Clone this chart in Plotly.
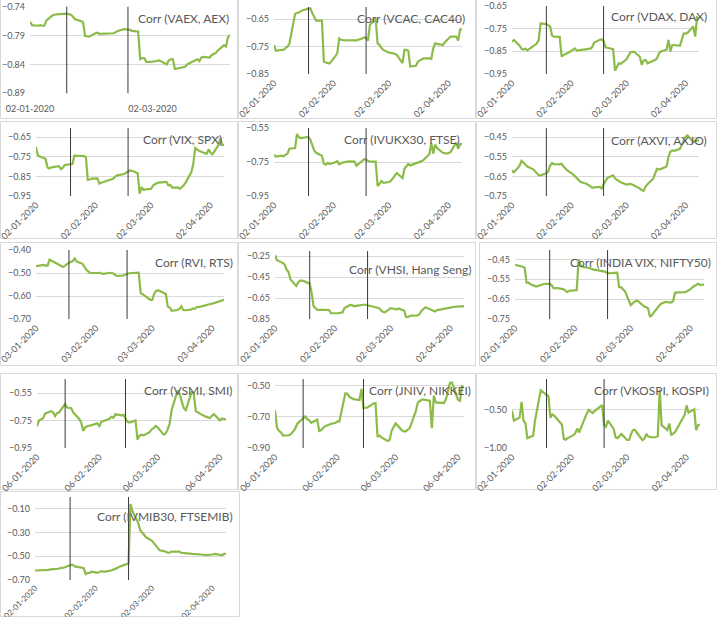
import pandas as pd
import plotly.graph_objects as go

W, H = 717, 617
dates = pd.bdate_range("2020-01-02", "2020-04-09")
events = ["2020-01-20", "2020-02-19"]

vaex = [-0.766,-0.772,-0.773,-0.772,-0.773,-0.773,-0.764,-0.755,-0.754,-0.753,
        -0.753,-0.753,-0.752,-0.753,-0.754,-0.757,-0.762,-0.765,-0.767,-0.791,
        -0.791,-0.792,-0.786,-0.785,-0.787,-0.787,-0.787,-0.787,-0.787,-0.786,
        -0.784,-0.782,-0.779,-0.779,-0.779,-0.780,-0.782,-0.783,-0.831,-0.829,
        -0.829,-0.836,-0.835,-0.835,-0.834,-0.833,-0.834,-0.840,-0.833,-0.831,
        -0.831,-0.848,-0.846,-0.845,-0.844,-0.840,-0.838,-0.833,-0.831,-0.834,
        -0.828,-0.827,-0.828,-0.824,-0.822,-0.820,-0.816,-0.807,-0.809,-0.793,
        -0.789]
vcac = [-0.744,-0.765,-0.762,-0.762,-0.755,-0.750,-0.740,-0.630,-0.627,-0.625,
        -0.620,-0.617,-0.611,-0.610,-0.628,-0.642,-0.655,-0.655,-0.805,-0.808,
        -0.810,-0.812,-0.785,-0.774,-0.720,-0.725,-0.726,-0.726,-0.726,-0.727,
        -0.728,-0.727,-0.720,-0.716,-0.718,-0.728,-0.670,-0.648,-0.738,-0.744,
        -0.755,-0.762,-0.772,-0.773,-0.774,-0.776,-0.780,-0.810,-0.762,-0.762,
        -0.765,-0.823,-0.820,-0.805,-0.800,-0.796,-0.793,-0.793,-0.795,-0.757,
        -0.738,-0.740,-0.744,-0.735,-0.726,-0.720,-0.713,-0.713,-0.728,-0.687,
        -0.686]
vdax = [-0.807,-0.800,-0.825,-0.838,-0.843,-0.838,-0.846,-0.826,-0.820,-0.816,
        -0.800,-0.727,-0.730,-0.734,-0.740,-0.780,-0.785,-0.786,-0.874,-0.866,
        -0.862,-0.859,-0.843,-0.837,-0.847,-0.846,-0.845,-0.841,-0.840,-0.838,
        -0.832,-0.812,-0.799,-0.797,-0.805,-0.832,-0.834,-0.840,-0.935,-0.918,
        -0.903,-0.905,-0.885,-0.870,-0.856,-0.852,-0.852,-0.874,-0.910,-0.890,
        -0.888,-0.903,-0.893,-0.888,-0.881,-0.860,-0.851,-0.843,-0.800,-0.851,
        -0.822,-0.822,-0.826,-0.800,-0.771,-0.772,-0.768,-0.740,-0.785,-0.700,
        -0.705]
vix = [-0.701,-0.745,-0.757,-0.762,-0.805,-0.810,-0.804,-0.798,-0.798,-0.813,
       -0.806,-0.792,-0.791,-0.787,-0.745,-0.745,-0.747,-0.747,-0.752,-0.868,
       -0.866,-0.862,-0.860,-0.887,-0.883,-0.879,-0.874,-0.866,-0.864,-0.856,
       -0.846,-0.844,-0.838,-0.832,-0.828,-0.820,-0.822,-0.834,-0.938,-0.905,
       -0.918,-0.916,-0.913,-0.897,-0.890,-0.884,-0.882,-0.880,-0.878,-0.896,
       -0.894,-0.907,-0.906,-0.913,-0.905,-0.895,-0.882,-0.828,-0.786,-0.706,
       -0.713,-0.720,-0.732,-0.735,-0.713,-0.730,-0.738,-0.692,-0.658,-0.690,
       -0.690]
ivukx = [-0.707,-0.718,-0.713,-0.716,-0.708,-0.702,-0.672,-0.668,-0.585,-0.605,
         -0.609,-0.607,-0.603,-0.620,-0.648,-0.683,-0.696,-0.713,-0.760,-0.766,
         -0.755,-0.762,-0.752,-0.746,-0.764,-0.758,-0.752,-0.746,-0.746,-0.746,
         -0.748,-0.772,-0.740,-0.734,-0.737,-0.742,-0.748,-0.748,-0.891,-0.880,
         -0.862,-0.872,-0.868,-0.860,-0.848,-0.830,-0.815,-0.845,-0.790,-0.775,
         -0.762,-0.770,-0.758,-0.754,-0.750,-0.745,-0.737,-0.703,-0.640,-0.700,
         -0.648,-0.668,-0.696,-0.700,-0.701,-0.698,-0.692,-0.635,-0.672,-0.645,
         -0.645]
axvi = [-0.619,-0.630,-0.596,-0.571,-0.580,-0.590,-0.600,-0.613,-0.625,-0.637,
        -0.644,-0.645,-0.634,-0.625,-0.595,-0.582,-0.588,-0.589,-0.586,-0.600,
        -0.610,-0.620,-0.640,-0.650,-0.660,-0.670,-0.679,-0.688,-0.693,-0.700,
        -0.708,-0.706,-0.704,-0.712,-0.690,-0.670,-0.658,-0.645,-0.660,-0.668,
        -0.676,-0.680,-0.692,-0.688,-0.688,-0.692,-0.696,-0.712,-0.720,-0.724,
        -0.702,-0.690,-0.662,-0.640,-0.612,-0.614,-0.613,-0.600,-0.550,-0.525,
        -0.518,-0.520,-0.510,-0.490,-0.465,-0.447,-0.442,-0.475,-0.472,-0.467,
        -0.467]
rvi = [-0.470,-0.466,-0.465,-0.468,-0.468,-0.442,-0.455,-0.460,-0.465,-0.470,
       -0.474,-0.455,-0.451,-0.448,-0.437,-0.450,-0.460,-0.476,-0.486,-0.494,
       -0.500,-0.500,-0.500,-0.499,-0.503,-0.504,-0.499,-0.500,-0.502,-0.510,
       -0.513,-0.511,-0.509,-0.504,-0.501,-0.500,-0.499,-0.499,-0.586,-0.594,
       -0.598,-0.617,-0.617,-0.590,-0.578,-0.575,-0.587,-0.591,-0.646,-0.650,
       -0.664,-0.661,-0.656,-0.645,-0.661,-0.662,-0.659,-0.654,-0.656,-0.647,
       -0.648,-0.640,-0.639,-0.637,-0.635,-0.633,-0.626,-0.623,-0.620,-0.615]
vhsi = [-0.240,-0.288,-0.313,-0.330,-0.378,-0.400,-0.470,-0.534,-0.500,-0.484,
        -0.484,-0.488,-0.512,-0.600,-0.730,-0.748,-0.762,-0.762,-0.762,-0.762,
        -0.764,-0.795,-0.800,-0.795,-0.790,-0.787,-0.746,-0.716,-0.718,-0.728,
        -0.724,-0.720,-0.714,-0.714,-0.716,-0.724,-0.728,-0.746,-0.746,-0.768,
        -0.782,-0.787,-0.746,-0.750,-0.755,-0.760,-0.750,-0.770,-0.831,-0.831,
        -0.822,-0.818,-0.815,-0.800,-0.770,-0.750,-0.738,-0.762,-0.770,-0.778,
        -0.765,-0.762,-0.756,-0.752,-0.746,-0.742,-0.735,-0.726,-0.730,-0.730,
        -0.730]
indiavix = [-0.478,-0.480,-0.487,-0.492,-0.567,-0.567,-0.575,-0.587,-0.583,-0.578,
            -0.576,-0.574,-0.572,-0.580,-0.595,-0.595,-0.595,-0.600,-0.605,-0.615,
            -0.608,-0.607,-0.605,-0.450,-0.480,-0.487,-0.490,-0.495,-0.500,-0.503,
            -0.503,-0.505,-0.510,-0.513,-0.520,-0.520,-0.518,-0.517,-0.590,-0.590,
            -0.600,-0.610,-0.680,-0.670,-0.663,-0.658,-0.662,-0.687,-0.690,-0.697,
            -0.740,-0.730,-0.690,-0.680,-0.672,-0.667,-0.664,-0.667,-0.660,-0.617,
            -0.617,-0.617,-0.615,-0.612,-0.607,-0.600,-0.590,-0.573,-0.578,-0.577,
            -0.577]
vsmi = [-0.792,-0.750,-0.740,-0.735,-0.700,-0.683,-0.690,-0.718,-0.697,-0.690,
        -0.630,-0.655,-0.659,-0.660,-0.690,-0.739,-0.765,-0.825,-0.800,-0.792,
        -0.780,-0.772,-0.770,-0.790,-0.760,-0.742,-0.737,-0.723,-0.730,-0.705,
        -0.713,-0.708,-0.730,-0.760,-0.765,-0.750,-0.890,-0.860,-0.853,-0.858,
        -0.835,-0.815,-0.805,-0.790,-0.800,-0.853,-0.845,-0.815,-0.770,-0.671,
        -0.530,-0.560,-0.611,-0.660,-0.675,-0.538,-0.560,-0.683,-0.690,-0.700,
        -0.722,-0.727,-0.732,-0.716,-0.705,-0.749,-0.735,-0.739,-0.740]
jniv = [-0.658,-0.770,-0.790,-0.800,-0.820,-0.818,-0.810,-0.795,-0.778,-0.745,
        -0.710,-0.697,-0.715,-0.722,-0.738,-0.718,-0.790,-0.785,-0.770,-0.760,
        -0.744,-0.742,-0.740,-0.729,-0.729,-0.549,-0.552,-0.572,-0.582,-0.586,
        -0.592,-0.521,-0.643,-0.643,-0.640,-0.614,-0.611,-0.829,-0.820,-0.832,
        -0.855,-0.848,-0.790,-0.765,-0.742,-0.785,-0.793,-0.793,-0.780,-0.772,
        -0.665,-0.610,-0.598,-0.590,-0.590,-0.596,-0.772,-0.564,-0.607,-0.607,
        -0.611,-0.588,-0.530,-0.482,-0.479,-0.590,-0.598,-0.504,-0.510]
vkospi = [-0.509,-0.640,-0.600,-0.395,-0.640,-0.677,-0.870,-0.840,-0.640,-0.510,
          -0.420,-0.240,-0.300,-0.318,-0.600,-0.560,-0.575,-0.665,-0.690,-0.880,
          -0.890,-0.870,-0.832,-0.805,-0.745,-0.795,-0.730,-0.545,-0.500,-0.520,
          -0.540,-0.515,-0.450,-0.435,-0.700,-0.720,-0.640,-0.750,-0.860,-0.870,
          -0.845,-0.815,-0.895,-0.895,-0.820,-0.765,-0.760,-0.860,-0.898,-0.880,
          -0.815,-0.850,-0.862,-0.855,-0.845,-0.235,-0.700,-0.765,-0.677,-0.832,
          -0.805,-0.790,-0.655,-0.600,-0.566,-0.440,-0.535,-0.491,-0.765,-0.699,
          -0.690]
ivmib = [-0.620,-0.620,-0.620,-0.620,-0.620,-0.615,-0.610,-0.610,-0.605,-0.600,
         -0.600,-0.595,-0.575,-0.570,-0.580,-0.590,-0.590,-0.600,-0.650,-0.640,
         -0.640,-0.630,-0.640,-0.630,-0.625,-0.630,-0.630,-0.620,-0.615,-0.605,
         -0.600,-0.590,-0.575,-0.565,-0.560,-0.060,-0.120,-0.220,-0.280,-0.300,
         -0.320,-0.340,-0.370,-0.390,-0.410,-0.430,-0.450,-0.460,-0.470,-0.470,
         -0.460,-0.460,-0.460,-0.470,-0.470,-0.470,-0.475,-0.480,-0.480,-0.480,
         -0.485,-0.485,-0.490,-0.490,-0.490,-0.485,-0.480,-0.490,-0.490,-0.480,
         -0.480]

def month_ticks(day):
    return [f"2020-{m:02d}-{day:02d}" for m in (1, 2, 3, 4)]

panels = [
    dict(t="Corr (VAEX, AEX)", v=vaex, s=0, yt=[-0.89, -0.84, -0.79, -0.74], yr=[-0.89, -0.74],
         xt=["2020-01-02", "2020-03-02"], ang=0, px=(30, 230), py=(6.7, 93.3), tp=(231, 18), box=(0, -1, 238, 119)),
    dict(t="Corr (VCAC, CAC40)", v=vcac, s=0, yt=[-0.85, -0.75, -0.65], yr=[-0.85, -0.605],
         xt=month_ticks(2), ang=-45, px=(274, 462), py=(7, 74), tp=(467, 18), box=(238, -1, 476, 119)),
    dict(t="Corr (VDAX, DAX)", v=vdax, s=0, yt=[-0.95, -0.85, -0.75, -0.65], yr=[-0.95, -0.65],
         xt=month_ticks(2), ang=-45, px=(512, 699), py=(6, 74), tp=(709, 17), box=(476, -1, 717, 119)),
    dict(t="Corr (VIX, SPX)", v=vix, s=0, yt=[-0.95, -0.85, -0.75, -0.65], yr=[-0.95, -0.604],
         xt=month_ticks(2), ang=-45, px=(36, 224), py=(128, 196), tp=(224, 139), box=(0, 121, 238, 239)),
    dict(t="Corr (IVUKX30, FTSE)", v=ivukx, s=0, yt=[-0.95, -0.75, -0.55], yr=[-0.95, -0.55],
         xt=month_ticks(2), ang=-45, px=(274, 462), py=(128, 196), tp=(462, 139), box=(238, 121, 476, 239)),
    dict(t="Corr (AXVI, AXJO)", v=axvi, s=0, yt=[-0.75, -0.65, -0.55, -0.45], yr=[-0.75, -0.404],
         xt=month_ticks(2), ang=-45, px=(512, 699), py=(128, 196), tp=(709, 140), box=(476, 121, 717, 239)),
    dict(t="Corr (RVI, RTS)", v=rvi, s=1, yt=[-0.70, -0.60, -0.50, -0.40], yr=[-0.70, -0.40],
         xt=month_ticks(3), ang=-45, px=(36, 224), py=(250, 319), tp=(235, 263), box=(0, 242, 238, 366)),
    dict(t="Corr (VHSI, Hang Seng)", v=vhsi, s=0, yt=[-0.85, -0.65, -0.45, -0.25], yr=[-0.85, -0.20],
         xt=month_ticks(2), ang=-45, px=(275, 464), py=(251, 319), tp=(473, 269), box=(238, 242, 476, 366)),
    dict(t="Corr (INDIA VIX, NIFTY50)", v=indiavix, s=0, yt=[-0.75, -0.65, -0.55, -0.45], yr=[-0.75, -0.403],
         xt=month_ticks(2), ang=-45, px=(515, 704), py=(250, 319), tp=(713, 263), box=(479, 242, 717, 366)),
    dict(t="Corr (VSMI, SMI)", v=vsmi, s=2, yt=[-0.95, -0.75, -0.55], yr=[-0.95, -0.448],
         xt=month_ticks(6), ang=-45, px=(37, 226), py=(379, 448), tp=(235, 390), box=(0, 373, 238, 490)),
    dict(t="Corr (JNIV, NIKKEI)", v=jniv, s=2, yt=[-0.90, -0.70, -0.50], yr=[-0.90, -0.457],
         xt=month_ticks(6), ang=-45, px=(275, 464), py=(379, 448), tp=(473, 390), box=(238, 373, 476, 490)),
    dict(t="Corr (VKOSPI, KOSPI)", v=vkospi, s=0, yt=[-1.00, -0.50], yr=[-1.0, -0.093],
         xt=month_ticks(2), ang=-45, px=(512, 700), py=(379, 448), tp=(711, 390), box=(476, 373, 717, 490)),
    dict(t="Corr (IVMIB30, FTSEMIB)", v=ivmib, s=0, yt=[-0.70, -0.50, -0.30, -0.10], yr=[-0.70, 0.0],
         xt=month_ticks(2), ang=-45, px=(35, 226), py=(497, 580), tp=(235, 516), box=(0, 491, 240, 617),
         xfs=8),
]

FONT = "Lato, Carlito, Calibri, sans-serif"
GREY = "#595959"
GREEN = "#8DBB4A"

fig = go.Figure()
shapes, annos = [], []
layout = {}

def fx(p):
    return p / W

def fy(p):
    return 1 - p / H

for i, p in enumerate(panels, start=1):
    sfx = "" if i == 1 else str(i)
    xa, ya = "x" + sfx, "y" + sfx
    xs = dates[p["s"]:p["s"] + len(p["v"])]
    fig.add_trace(go.Scatter(x=xs, y=p["v"], mode="lines", xaxis=xa, yaxis=ya,
                             line=dict(color=GREEN, width=2.2), hoverinfo="skip"))
    layout["xaxis" + sfx] = dict(
        domain=[fx(p["px"][0]), fx(p["px"][1])], anchor=ya, type="date", automargin=False,
        range=[dates[p["s"]], dates[-1]], tickvals=p["xt"], tickformat="%d-%m-%Y",
        tickangle=p["ang"], showgrid=False, zeroline=False, showline=False, ticks="",
        ticklabeloverflow="allow", ticklabelstandoff=(9 if p["ang"] == 0 else 1),
        tickfont=dict(family=FONT, size=p.get("xfs", 9), color=GREY))
    layout["yaxis" + sfx] = dict(
        domain=[fy(p["py"][1]), fy(p["py"][0])], anchor=xa, range=p["yr"], automargin=False,
        tickvals=p["yt"], tickformat=".2f", showgrid=True, gridcolor="#D9D9D9", gridwidth=1,
        zeroline=False, showline=False, ticks="", ticklabelstandoff=4, ticklabeloverflow="allow",
        tickfont=dict(family=FONT, size=9, color=GREY))
    for ev in events:
        shapes.append(dict(type="line", xref=xa, yref=ya + " domain", x0=ev, x1=ev, y0=0, y1=1,
                           line=dict(color="#3A3A3A", width=1)))
    b = p["box"]
    shapes.append(dict(type="rect", xref="paper", yref="paper", x0=fx(b[0] + 0.5), x1=fx(b[2] - 0.5),
                       y0=fy(b[3] - 0.5), y1=fy(b[1] + 0.5), line=dict(color="#D9D9D9", width=1),
                       layer="below"))
    annos.append(dict(text=p["t"], xref="paper", yref="paper", x=fx(p["tp"][0]), y=fy(p["tp"][1]),
                      xanchor="right", yanchor="middle", showarrow=False,
                      font=dict(family=FONT, size=12, color=GREY)))

fig.update_layout(**layout)
fig.update_layout(width=W, height=H, margin=dict(l=0, r=0, t=0, b=0, autoexpand=False),
                  paper_bgcolor="white", plot_bgcolor="white", showlegend=False,
                  shapes=shapes, annotations=annos, font=dict(family=FONT, color=GREY))
fig.write_html("out.html", config={"displayModeBar": False, "staticPlot": True},
               post_script="document.body.style.margin='0px';")
